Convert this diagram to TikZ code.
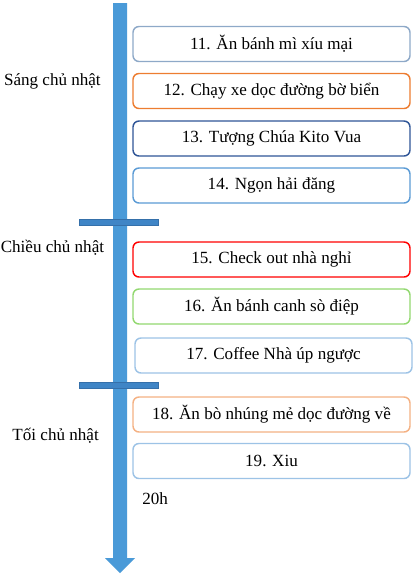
\documentclass[tikz,border=0pt]{standalone}
\usepackage{fontspec}
\setmainfont{Liberation Serif}
\begin{document}
\begin{tikzpicture}[x=0.75pt,y=-0.75pt,
  evbox/.style={draw, line width=1.1pt, rounded corners=4.5pt, fill=white,
    minimum width=207.75pt, minimum height=26.25pt, inner sep=0pt,
    font=\fontsize{12.8}{15}\selectfont},
  lbl/.style={inner sep=0pt, font=\fontsize{12.8}{15}\selectfont},
  tickbar/.style={fill=tickc, draw=tickd, line width=0.5pt}]
\definecolor{shaft}{HTML}{4A9AD8}
\definecolor{tickc}{HTML}{3F85C6}
\definecolor{tickd}{HTML}{3570AA}
\definecolor{c1}{HTML}{8EA9C8}
\definecolor{c2}{HTML}{ED7D31}
\definecolor{c3}{HTML}{2F5597}
\definecolor{c4}{HTML}{5B9BD5}
\definecolor{c5}{HTML}{FF0000}
\definecolor{c6}{HTML}{92D870}
\definecolor{c7}{HTML}{9DC3E6}
\definecolor{c8}{HTML}{F4B183}
\definecolor{c9}{HTML}{9DC3E6}
\useasboundingbox (0,0) rectangle (416,576);
% timeline arrow
\fill[shaft] (113,3) -- (127,3) -- (127,558) -- (135,558) -- (120,573) -- (105,558) -- (113,558) -- cycle;
% section ticks
\draw[tickbar] (79,219) rectangle (158,225);
\draw[tickbar] (79,382.5) rectangle (158,388.5);
% event boxes
\node[evbox, draw=c1] (b11) at (271.5,44) {11. Ăn bánh mì xíu mại};
\node[evbox, draw=c2] (b12) at (271.5,91) {12. Chạy xe dọc đường bờ biển};
\node[evbox, draw=c3] (b13) at (271.5,138.5) {13. Tượng Chúa Kito Vua};
\node[evbox, draw=c4] (b14) at (271.5,185.5) {14. Ngọn hải đăng};
\node[evbox, draw=c5] (b15) at (271.5,259.5) {15. Check out nhà nghỉ};
\node[evbox, draw=c6] (b16) at (271.5,306.5) {16. Ăn bánh canh sò điệp};
\node[evbox, draw=c7] (b17) at (273.5,355.5) {17. Coffee Nhà úp ngược};
\node[evbox, draw=c8] (b18) at (271.5,414.5) {18. Ăn bò nhúng mẻ dọc đường về};
\node[evbox, draw=c9] (b19) at (271.5,461) {19. Xiu};
% section labels
\node[lbl, anchor=east] (sang) at (101,81) {Sáng chủ nhật};
\node[lbl, anchor=west] (chieu) at (0.5,248) {Chiều chủ nhật};
\node[lbl, anchor=east] (toi) at (99,436) {Tối chủ nhật};
\node[lbl, anchor=west] (end) at (142,499) {20h};
\end{tikzpicture}
\end{document}
